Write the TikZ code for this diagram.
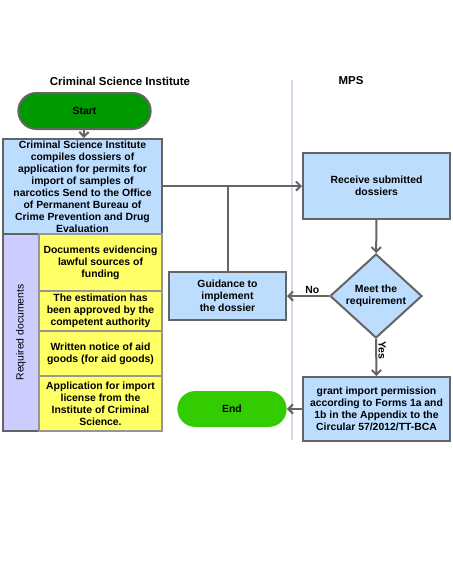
\documentclass[tikz,border=0pt]{standalone}
\usepackage{fontspec}
\setmainfont{Liberation Sans}
\usetikzlibrary{arrows.meta,shapes.geometric,shapes.misc}
\definecolor{boxblue}{RGB}{189,221,255}
\definecolor{docyellow}{RGB}{255,255,102}
\definecolor{sidelilac}{RGB}{204,204,255}
\definecolor{startgreen}{RGB}{0,153,0}
\definecolor{endgreen}{RGB}{51,204,0}
\definecolor{edgegray}{RGB}{100,100,100}
\definecolor{docgray}{RGB}{150,150,150}
\definecolor{lanegray}{RGB}{215,215,235}
\tikzset{
  txt/.style={font=\bfseries\fontsize{7.8}{9}\selectfont,align=center,inner sep=1pt},
  proc/.style={txt,draw=edgegray,line width=1.5pt,fill=boxblue},
  docbox/.style={txt,draw=docgray,line width=1.2pt,fill=docyellow,minimum width=92.25pt},
  term/.style={txt,rounded rectangle,minimum height=27pt},
  flow/.style={draw=edgegray,line width=1.5pt,-{Straight Barb[length=3.5pt,width=7pt]}}
}
\begin{document}
\begin{tikzpicture}[x=0.75pt,y=-0.75pt]
\useasboundingbox (0,0) rectangle (453,575);
% lanes
\draw[lanegray,line width=1pt](292,80)--(292,440);
\node[txt,font=\bfseries\fontsize{8.6}{10}\selectfont] (laneA) at (120,81) {Criminal Science Institute};
\node[txt,font=\bfseries\fontsize{8.6}{10}\selectfont] (laneB) at (351,81) {MPS};
% left lane
\node[term,draw=edgegray,line width=1.5pt,fill=startgreen,minimum width=101.25pt] (start) at (84.5,111) {Start};
\node[proc,minimum width=119.25pt,minimum height=71.25pt] (compile) at (82.5,186.5) {Criminal Science Institute\\compiles dossiers of\\application for permits for\\import of samples of\\narcotics Send to the Office\\of Permanent Bureau of\\Crime Prevention and Drug\\Evaluation};
\node[txt,draw=edgegray,line width=1.5pt,fill=sidelilac,minimum width=27pt,minimum height=147.75pt] (reqdocs) at (21,332.5) {};
\node[txt,font=\fontsize{7.8}{9}\selectfont,rotate=90] at (reqdocs.center) {Required documents};
\node[docbox,minimum height=42.75pt] (doc1) at (100.5,262.5) {Documents evidencing\\lawful sources of\\funding};
\node[docbox,minimum height=30pt] (doc2) at (100.5,311) {The estimation has\\been approved by the\\competent authority};
\node[docbox,minimum height=33.75pt] (doc3) at (100.5,353.5) {Written notice of aid\\goods (for aid goods)};
\node[docbox,minimum height=41.25pt] (doc4) at (100.5,403.5) {Application for import\\license from the\\Institute of Criminal\\Science.};
\node[proc,minimum width=87.75pt,minimum height=36pt] (guide) at (227.5,296) {Guidance to\\implement\\the dossier};
\node[term,fill=endgreen,minimum width=84pt] (end) at (232,409) {End};
% right lane
\node[proc,minimum width=110.25pt,minimum height=49.5pt] (receive) at (376.5,186) {Receive submitted\\dossiers};
\node[proc,diamond,minimum width=69pt,minimum height=63pt,inner sep=0pt] (check) at (376,296) {Meet the\\requirement};
\node[proc,minimum width=110.25pt,minimum height=48pt] (grant) at (376.5,409) {grant import permission\\according to Forms 1a and\\1b in the Appendix to the\\Circular 57/2012/TT-BCA};
% connectors
\draw[flow](start)--(compile);
\draw[flow](compile.east|-receive.west)--(receive.west);
\draw[flow](receive)--(check);
\draw[flow](check.west)--node[txt,above,pos=0.4]{No}(guide.east);
\draw[draw=edgegray,line width=1.5pt](guide.north)--(guide.north|-receive.west);
\draw[flow](check.south)--node[txt,right,pos=0.3,rotate=-90,anchor=south]{Yes}(grant.north);
\draw[flow](grant.west)--(end.east);
\end{tikzpicture}
\end{document}
